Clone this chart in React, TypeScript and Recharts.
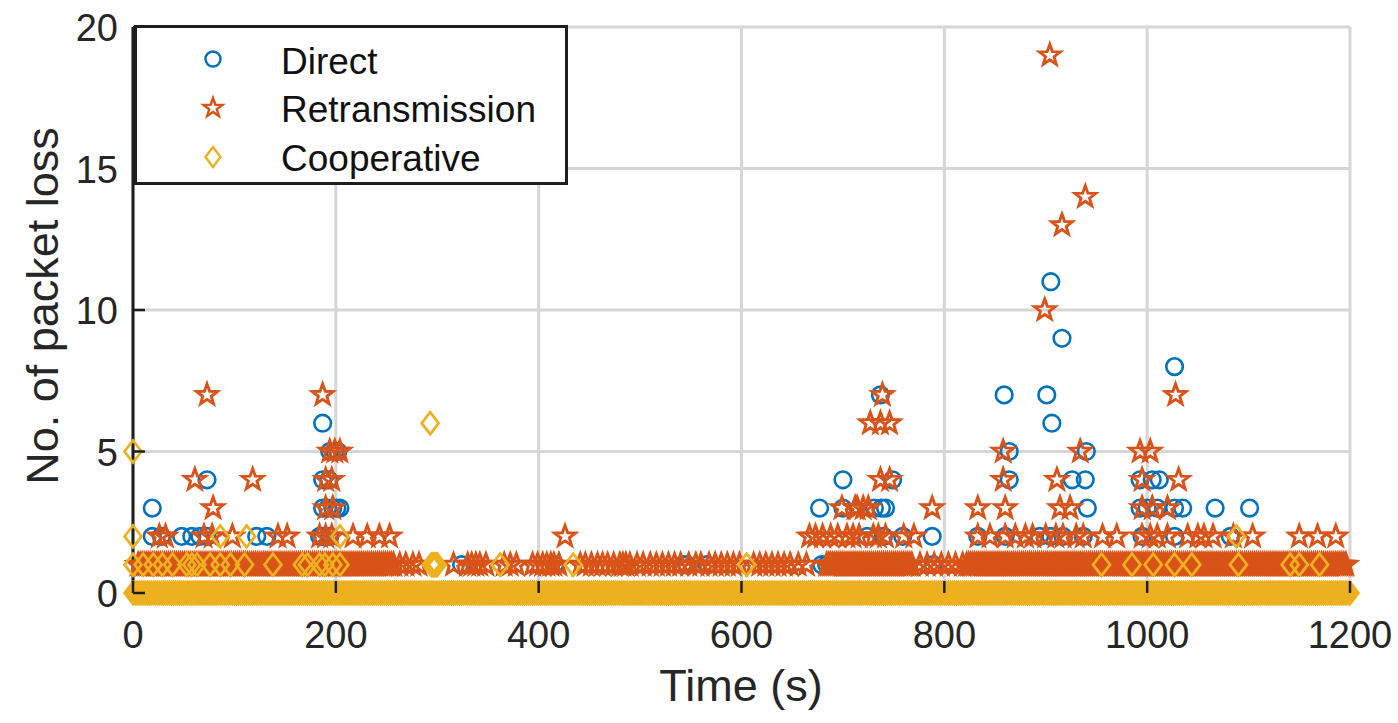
import React from 'react';
import { ScatterChart, Scatter, XAxis, YAxis, CartesianGrid, Label } from 'recharts';

const X_TICKS = [0, 200, 400, 600, 800, 1000, 1200];
const Y_TICKS = [0, 5, 10, 15, 20];

// Direct: visible y=1 hits and the scattered higher losses
const directOnes = [19, 24, 26, 55, 73, 82, 90, 125, 190, 204, 324, 416, 542, 546, 566, 679, 684, 707, 761, 789, 833, 860, 900, 940, 995, 1030, 1060];
const directPeaks: [number, number][] = [
  [19, 2], [28, 2], [48, 2], [58, 2], [66, 2], [73, 2], [122, 2], [132, 2], [184, 2], [187, 2], [194, 2],
  [724, 2], [740, 2], [759, 2], [788, 2], [833, 2], [860, 2], [894, 2], [905, 2], [917, 2], [937, 2], [995, 2], [1027, 2], [1082, 2],
  [19, 3], [187, 3], [192, 3], [197, 3], [201, 3], [204, 3], [677, 3], [700, 3], [731, 3], [738, 3], [742, 3], [941, 3],
  [993, 3], [1000, 3], [1010, 3], [1027, 3], [1035, 3], [1067, 3], [1101, 3],
  [73, 4], [187, 4], [193, 4], [700, 4], [749, 4], [864, 4], [926, 4], [939, 4], [993, 4], [1005, 4], [1012, 4],
  [194, 5], [199, 5], [202, 5], [864, 5], [940, 5],
  [187, 6], [906, 6],
  [737, 7], [859, 7], [901, 7],
  [1027, 8], [916, 9], [905, 11],
];

// Retransmission
const retransOnes = [
  5, 7, 9, 11, 13, 15, 17, 19, 21, 23, 25, 27, 29, 31, 33, 35, 37, 39, 41, 43,
  45, 47, 49, 51, 53, 55, 57, 59, 61, 63, 65, 67, 69, 71, 73, 75, 77, 79, 81, 83,
  85, 87, 89, 91, 93, 95, 97, 99, 101, 103, 105, 107, 109, 111, 113, 115, 117, 119, 121, 123,
  125, 127, 129, 131, 133, 135, 137, 139, 141, 143, 145, 147, 149, 151, 153, 155, 157, 159, 161, 163,
  165, 167, 169, 171, 173, 175, 177, 179, 181, 183, 185, 187, 189, 191, 193, 195, 197, 199, 201, 203,
  205, 207, 209, 211, 213, 215, 217, 219, 221, 223, 225, 227, 229, 231, 233, 235, 237, 239, 241, 243,
  245, 247, 249, 251, 253, 255, 257,
  263, 269, 276, 282, 316, 330, 334, 338, 342, 348, 366, 372, 378, 394, 399, 404, 408, 412, 415, 420, 441, 446, 452, 458, 463,
  468, 474, 480, 483, 486, 490, 497, 503, 510, 516, 522, 528, 534, 540, 548, 555, 560, 568, 574, 580, 586, 592, 598, 612, 618,
  624, 630, 636, 642, 648, 656, 664,
  684, 686, 688, 690, 692, 694, 696, 698, 700, 702, 704, 706, 708, 710, 712, 714, 716, 718, 720, 722,
  724, 726, 728, 730, 732, 734, 736, 738, 740, 742, 744, 746, 748, 750, 752, 754, 756, 758, 760, 762,
  764, 766, 768,
  776, 783, 790, 797, 804, 811, 818,
  822, 824, 826, 828, 830, 832, 834, 836, 838, 840, 842, 844, 846, 848, 850, 852, 854, 856, 858, 860,
  862, 864, 866, 868, 870, 872, 874, 876, 878, 880, 882, 884, 886, 888, 890, 892, 894, 896, 898, 900,
  902, 904, 906, 908, 910, 912, 914, 916, 918, 920, 922, 924, 926, 928, 930, 932, 934, 936, 938, 940,
  942, 944, 946, 948, 950, 952, 954, 956, 958, 960, 962, 964, 966, 968, 970, 972, 974, 976, 978, 980,
  982, 984, 986, 988, 990, 992, 994, 996, 998, 1000, 1002, 1004, 1006, 1008, 1010, 1012, 1014, 1016, 1018, 1020,
  1022, 1024, 1026, 1028, 1030, 1032, 1034, 1036, 1038, 1040, 1042, 1044, 1046, 1048, 1050, 1052, 1054, 1056, 1058, 1060,
  1062, 1064, 1066, 1068, 1070, 1072, 1074, 1076, 1078, 1080, 1082, 1084, 1086, 1088, 1090, 1092, 1094, 1096, 1098, 1100,
  1102, 1104, 1106, 1108, 1110, 1112, 1114, 1116, 1118, 1120, 1122, 1124, 1126, 1128, 1130, 1132, 1134, 1136, 1138, 1140,
  1142, 1144, 1146, 1148, 1150, 1152, 1154, 1156, 1158, 1160, 1162, 1164, 1166, 1168, 1170, 1172, 1174, 1176, 1178, 1180,
  1182, 1184, 1186, 1188, 1190, 1192, 1194, 1196,
];
const retransPeaks: [number, number][] = [
  [26, 2], [32, 2], [70, 2], [78, 2], [98, 2], [143, 2], [152, 2], [184, 2], [190, 2], [196, 2], [217, 2], [231, 2], [243, 2], [253, 2],
  [426, 2], [667, 2], [673, 2], [680, 2], [688, 2], [695, 2], [704, 2], [710, 2], [716, 2], [730, 2], [735, 2], [742, 2], [760, 2],
  [770, 2], [833, 2], [845, 2], [860, 2], [870, 2], [880, 2], [887, 2], [900, 2], [910, 2], [917, 2], [930, 2], [937, 2], [956, 2],
  [970, 2], [995, 2], [1003, 2], [1010, 2], [1020, 2], [1040, 2], [1050, 2], [1056, 2], [1065, 2], [1085, 2], [1104, 2], [1150, 2],
  [1168, 2], [1186, 2],
  [79, 3], [190, 3], [197, 3], [699, 3], [712, 3], [714, 3], [720, 3], [725, 3], [788, 3], [833, 3], [860, 3], [914, 3], [924, 3],
  [995, 3], [1005, 3], [1020, 3],
  [61, 4], [118, 4], [190, 4], [196, 4], [737, 4], [746, 4], [858, 4], [911, 4], [995, 4], [1031, 4],
  [194, 5], [199, 5], [204, 5], [858, 5], [934, 5], [993, 5], [1003, 5],
  [727, 6], [737, 6], [746, 6],
  [73, 7], [187, 7], [739, 7], [1028, 7],
  [899, 10], [916, 13], [939, 14], [904, 19],
];

// Cooperative: zero loss almost the whole run
const coopZeros = [
  0, 2, 4, 6, 8, 10, 12, 14, 16, 18, 20, 22, 24, 26, 28, 30, 32, 34, 36, 38, 40, 42, 44, 46, 48,
  50, 52, 54, 56, 58, 60, 62, 64, 66, 68, 70, 72, 74, 76, 78, 80, 82, 84, 86, 88, 90, 92, 94, 96, 98,
  100, 102, 104, 106, 108, 110, 112, 114, 116, 118, 120, 122, 124, 126, 128, 130, 132, 134, 136, 138, 140, 142, 144, 146, 148,
  150, 152, 154, 156, 158, 160, 162, 164, 166, 168, 170, 172, 174, 176, 178, 180, 182, 184, 186, 188, 190, 192, 194, 196, 198,
  200, 202, 204, 206, 208, 210, 212, 214, 216, 218, 220, 222, 224, 226, 228, 230, 232, 234, 236, 238, 240, 242, 244, 246, 248,
  250, 252, 254, 256, 258, 260, 262, 264, 266, 268, 270, 272, 274, 276, 278, 280, 282, 284, 286, 288, 290, 292, 294, 296, 298,
  300, 302, 304, 306, 308, 310, 312, 314, 316, 318, 320, 322, 324, 326, 328, 330, 332, 334, 336, 338, 340, 342, 344, 346, 348,
  350, 352, 354, 356, 358, 360, 362, 364, 366, 368, 370, 372, 374, 376, 378, 380, 382, 384, 386, 388, 390, 392, 394, 396, 398,
  400, 402, 404, 406, 408, 410, 412, 414, 416, 418, 420, 422, 424, 426, 428, 430, 432, 434, 436, 438, 440, 442, 444, 446, 448,
  450, 452, 454, 456, 458, 460, 462, 464, 466, 468, 470, 472, 474, 476, 478, 480, 482, 484, 486, 488, 490, 492, 494, 496, 498,
  500, 502, 504, 506, 508, 510, 512, 514, 516, 518, 520, 522, 524, 526, 528, 530, 532, 534, 536, 538, 540, 542, 544, 546, 548,
  550, 552, 554, 556, 558, 560, 562, 564, 566, 568, 570, 572, 574, 576, 578, 580, 582, 584, 586, 588, 590, 592, 594, 596, 598,
  600, 602, 604, 606, 608, 610, 612, 614, 616, 618, 620, 622, 624, 626, 628, 630, 632, 634, 636, 638, 640, 642, 644, 646, 648,
  650, 652, 654, 656, 658, 660, 662, 664, 666, 668, 670, 672, 674, 676, 678, 680, 682, 684, 686, 688, 690, 692, 694, 696, 698,
  700, 702, 704, 706, 708, 710, 712, 714, 716, 718, 720, 722, 724, 726, 728, 730, 732, 734, 736, 738, 740, 742, 744, 746, 748,
  750, 752, 754, 756, 758, 760, 762, 764, 766, 768, 770, 772, 774, 776, 778, 780, 782, 784, 786, 788, 790, 792, 794, 796, 798,
  800, 802, 804, 806, 808, 810, 812, 814, 816, 818, 820, 822, 824, 826, 828, 830, 832, 834, 836, 838, 840, 842, 844, 846, 848,
  850, 852, 854, 856, 858, 860, 862, 864, 866, 868, 870, 872, 874, 876, 878, 880, 882, 884, 886, 888, 890, 892, 894, 896, 898,
  900, 902, 904, 906, 908, 910, 912, 914, 916, 918, 920, 922, 924, 926, 928, 930, 932, 934, 936, 938, 940, 942, 944, 946, 948,
  950, 952, 954, 956, 958, 960, 962, 964, 966, 968, 970, 972, 974, 976, 978, 980, 982, 984, 986, 988, 990, 992, 994, 996, 998,
  1000, 1002, 1004, 1006, 1008, 1010, 1012, 1014, 1016, 1018, 1020, 1022, 1024, 1026, 1028, 1030, 1032, 1034, 1036, 1038, 1040, 1042, 1044, 1046, 1048,
  1050, 1052, 1054, 1056, 1058, 1060, 1062, 1064, 1066, 1068, 1070, 1072, 1074, 1076, 1078, 1080, 1082, 1084, 1086, 1088, 1090, 1092, 1094, 1096, 1098,
  1100, 1102, 1104, 1106, 1108, 1110, 1112, 1114, 1116, 1118, 1120, 1122, 1124, 1126, 1128, 1130, 1132, 1134, 1136, 1138, 1140, 1142, 1144, 1146, 1148,
  1150, 1152, 1154, 1156, 1158, 1160, 1162, 1164, 1166, 1168, 1170, 1172, 1174, 1176, 1178, 1180, 1182, 1184, 1186, 1188, 1190, 1192, 1194, 1196, 1198,
  1200,
];
const coopOnes = [0, 10, 20, 29, 39, 53, 58, 63, 76, 86, 96, 110, 138, 167, 172, 184, 189, 197, 204,
  294, 295, 296, 297, 298, 299, 300, 362, 434, 605, 955, 985, 1006, 1027, 1044, 1090, 1141, 1150, 1170];
const coopPeaks: [number, number][] = [[0, 2], [86, 2], [112, 2], [204, 2], [1088, 2], [0, 5], [293, 6]];

const BLUE = '#0072BD';
const ORANGE = '#D95319';
const YELLOW = '#EDB120';
const INK = '#1e1e1e';
const FONT = '"Liberation Sans", Arial, Helvetica, sans-serif';

const pts = (xs: number[], y: number) => xs.map((x) => ({ x, y }));
const pairs = (list: [number, number][]) => list.map(([x, y]) => ({ x, y }));

const directData = [...pts(directOnes, 1), ...pairs(directPeaks)];
const retransData = [...pts(retransOnes, 1), ...pairs(retransPeaks)];
const coopData = [...pts(coopZeros, 0), ...pts(coopOnes, 1), ...pairs(coopPeaks)];

const starPath = (cx: number, cy: number, R: number, r: number) => {
  let d = '';
  for (let i = 0; i < 10; i++) {
    const rad = i % 2 === 0 ? R : r;
    const a = -Math.PI / 2 + (i * Math.PI) / 5;
    d += (i === 0 ? 'M' : 'L') + (cx + rad * Math.cos(a)).toFixed(2) + ',' + (cy + rad * Math.sin(a)).toFixed(2);
  }
  return d + 'Z';
};
const diamondPath = (cx: number, cy: number, w: number, h: number) =>
  `M${cx},${cy - h}L${cx + w},${cy}L${cx},${cy + h}L${cx - w},${cy}Z`;

const Ring = ({ cx, cy }: any) => <circle cx={cx} cy={cy} r={8.3} fill="none" stroke={BLUE} strokeWidth={2.6} />;
const Star = ({ cx, cy }: any) => <path d={starPath(cx, cy, 11, 4.5)} fill="none" stroke={ORANGE} strokeWidth={2.9} />;
const Diamond = ({ cx, cy }: any) => <path d={diamondPath(cx, cy, 8.5, 11)} fill="none" stroke={YELLOW} strokeWidth={2.7} />;

const BottomTick = ({ x, y, payload }: any) => (
  <g>
    <line x1={x} y1={y} x2={x} y2={y - 12} stroke={INK} strokeWidth={2.5} />
    <text x={x} y={y + 55} textAnchor="middle" fontSize={38} fontFamily={FONT} fill="#262626">{payload.value}</text>
  </g>
);
const TopTick = ({ x, y }: any) => <line x1={x} y1={y} x2={x} y2={y + 12} stroke={INK} strokeWidth={2.5} />;
const LeftTick = ({ x, y, payload }: any) => (
  <g>
    <line x1={x} y1={y} x2={x + 12} y2={y} stroke={INK} strokeWidth={2.5} />
    <text x={x - 15} y={y + 14} textAnchor="end" fontSize={38} fontFamily={FONT} fill="#262626">{payload.value}</text>
  </g>
);
const RightTick = ({ x, y }: any) => <line x1={x} y1={y} x2={x - 12} y2={y} stroke={INK} strokeWidth={2.5} />;

const LegendBox = () => (
  <svg width={434} height={160} style={{ position: 'absolute', left: 134, top: 25 }}>
    <rect x={1.5} y={1.5} width={431} height={157} fill="#fff" stroke={INK} strokeWidth={3} />
    <circle cx={79} cy={34} r={7.5} fill="none" stroke={BLUE} strokeWidth={2.4} />
    <path d={starPath(79, 83, 10, 4)} fill="none" stroke={ORANGE} strokeWidth={2.4} />
    <path d={diamondPath(79, 132, 7.5, 10)} fill="none" stroke={YELLOW} strokeWidth={2.4} />
    <text x={147} y={49} fontSize={37} fontFamily={FONT} fill="#111">Direct</text>
    <text x={147} y={97} fontSize={37} fontFamily={FONT} fill="#111">Retransmission</text>
    <text x={147} y={146} fontSize={37} fontFamily={FONT} fill="#111">Cooperative</text>
  </svg>
);

export default function App() {
  return (
    <div style={{ position: 'fixed', left: 0, top: 0, width: 1398, height: 723, background: '#fff' }}>
      <ScatterChart width={1398} height={723} margin={{ top: 27, right: 48, bottom: 0, left: 0 }}>
        <CartesianGrid stroke="#d6d6d6" strokeWidth={3} vertical horizontal />
        <XAxis
          dataKey="x" type="number" domain={[0, 1200]} ticks={X_TICKS} interval={0} height={130}
          tickSize={0} tickMargin={0} tickLine={false} tick={<BottomTick />}
          axisLine={{ stroke: INK, strokeWidth: 3 }}
        >
          <Label content={() => (
            <text x={741} y={701} textAnchor="middle" fontSize={45} fontFamily={FONT} fill="#262626">Time (s)</text>
          )} />
        </XAxis>
        <XAxis
          xAxisId="top" orientation="top" dataKey="x" type="number" domain={[0, 1200]} ticks={X_TICKS} interval={0}
          height={0} tickSize={0} tickMargin={0} tickLine={false} tick={<TopTick />}
          axisLine={{ stroke: INK, strokeWidth: 3 }}
        />
        <YAxis
          dataKey="y" type="number" domain={[0, 20]} ticks={Y_TICKS} interval={0} width={133}
          tickSize={0} tickMargin={0} tickLine={false} tick={<LeftTick />}
          axisLine={{ stroke: INK, strokeWidth: 3 }}
        >
          <Label content={() => (
            <text x={58} y={306} textAnchor="middle" fontSize={45} fontFamily={FONT} fill="#262626"
              transform="rotate(-90, 58, 306)">No. of packet loss</text>
          )} />
        </YAxis>
        <YAxis
          yAxisId="right" orientation="right" dataKey="y" type="number" domain={[0, 20]} ticks={Y_TICKS} interval={0}
          width={0} tickSize={0} tickMargin={0} tickLine={false} tick={<RightTick />}
          axisLine={{ stroke: INK, strokeWidth: 3 }}
        />
        <Scatter name="Direct" data={directData} shape={(p: any) => <Ring {...p} />} isAnimationActive={false} />
        <Scatter name="Retransmission" data={retransData} shape={(p: any) => <Star {...p} />} isAnimationActive={false} />
        <Scatter name="Cooperative" data={coopData} shape={(p: any) => <Diamond {...p} />} isAnimationActive={false} />
      </ScatterChart>
      <LegendBox />
    </div>
  );
}
